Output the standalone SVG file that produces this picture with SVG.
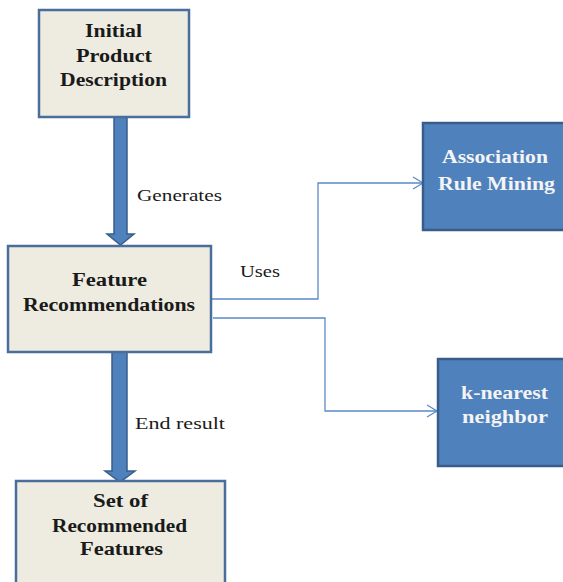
<svg xmlns="http://www.w3.org/2000/svg" width="563" height="582" viewBox="0 0 563 582">
<style>
.lbox{fill:#EEECE1;stroke:#4A6E9C;stroke-width:2.5}
.bbox{fill:#4F81BD;stroke:#385D8A;stroke-width:2.5}
.t{font-family:"Liberation Serif","Times New Roman",serif;font-weight:bold;font-size:18.5px;fill:#1a1a1a}
.tw{font-family:"Liberation Serif","Times New Roman",serif;font-weight:bold;font-size:18.5px;fill:#F4F4F4}
.lab{font-family:"Liberation Serif","Times New Roman",serif;font-size:17px;fill:#1a1a1a}
.thick{fill:#4F81BD;stroke:#385D8A;stroke-width:1.5}
.conn{fill:none;stroke:#5B8BC8;stroke-width:1.3}
</style>
<defs>
<marker id="open" markerWidth="14" markerHeight="14" refX="11" refY="7" orient="auto" markerUnits="userSpaceOnUse">
<path d="M1,1 L11,7 L1,13" fill="none" stroke="#5B8BC8" stroke-width="1.3"/>
</marker>
</defs>
<g id="connectors">
<polygon class="thick" points="114,117 127,117 127,234 134,234 120.5,245 107,234 114,234"/>
<polygon class="thick" points="112,352 127,352 127,471 135,471 120,482 105,471 112,471"/>
<polyline class="conn" points="211,299 318,299 318,183 423,183" marker-end="url(#open)"/>
<polyline class="conn" points="213,318 325,318 325,411 437,411" marker-end="url(#open)"/>
<text class="lab" x="137" y="201" textLength="85" lengthAdjust="spacingAndGlyphs">Generates</text>
<text class="lab" x="240" y="277" textLength="40" lengthAdjust="spacingAndGlyphs">Uses</text>
<text class="lab" x="135" y="429" textLength="90" lengthAdjust="spacingAndGlyphs">End result</text>
</g>
<g id="initial">
<rect class="lbox" x="39" y="10" width="150" height="107"/>
<text class="t" x="85" y="37" textLength="57" lengthAdjust="spacingAndGlyphs">Initial</text>
<text class="t" x="76" y="62" textLength="76" lengthAdjust="spacingAndGlyphs">Product</text>
<text class="t" x="60" y="86" textLength="107" lengthAdjust="spacingAndGlyphs">Description</text>
</g>
<g id="feature">
<rect class="lbox" x="8" y="246" width="203" height="106"/>
<text class="t" x="72" y="286" textLength="75" lengthAdjust="spacingAndGlyphs">Feature</text>
<text class="t" x="23" y="311" textLength="172" lengthAdjust="spacingAndGlyphs">Recommendations</text>
</g>
<g id="set">
<rect class="lbox" x="16" y="481" width="209" height="110"/>
<text class="t" x="93" y="507" textLength="55" lengthAdjust="spacingAndGlyphs">Set of</text>
<text class="t" x="52" y="532" textLength="135" lengthAdjust="spacingAndGlyphs">Recommended</text>
<text class="t" x="80" y="555" textLength="83" lengthAdjust="spacingAndGlyphs">Features</text>
</g>
<g id="assoc">
<rect class="bbox" x="423" y="123" width="150" height="107"/>
<text class="tw" x="442" y="163" textLength="106" lengthAdjust="spacingAndGlyphs">Association</text>
<text class="tw" x="438" y="190" textLength="117" lengthAdjust="spacingAndGlyphs">Rule Mining</text>
</g>
<g id="knn">
<rect class="bbox" x="438" y="359" width="135" height="107"/>
<text class="tw" x="461" y="399" textLength="87" lengthAdjust="spacingAndGlyphs">k-nearest</text>
<text class="tw" x="462" y="423" textLength="86" lengthAdjust="spacingAndGlyphs">neighbor</text>
</g>
</svg>
